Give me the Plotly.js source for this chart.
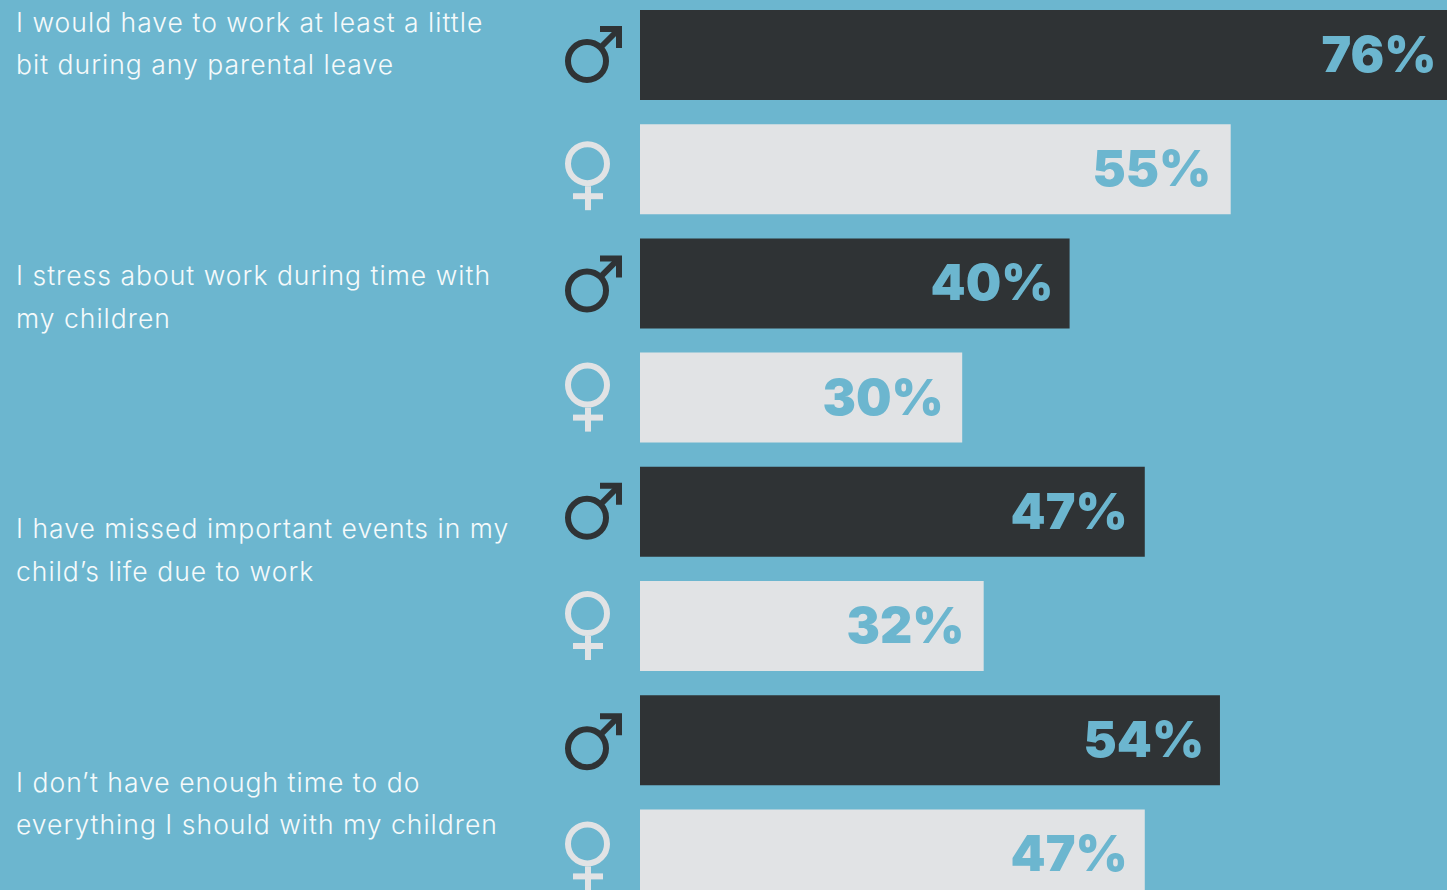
<!DOCTYPE html>
<html><head><meta charset="utf-8">
<script src="https://cdn.plot.ly/plotly-3.0.1.min.js"></script>
<style>html,body{margin:0;padding:0;overflow:hidden;background:#6cb6cf}#c{width:1447px;height:890px}
.annotation-text{letter-spacing:1.02px}
.annotation[data-index="0"] .annotation-text,.annotation[data-index="1"] .annotation-text,.annotation[data-index="2"] .annotation-text,.annotation[data-index="3"] .annotation-text,.annotation[data-index="4"] .annotation-text,.annotation[data-index="5"] .annotation-text,.annotation[data-index="6"] .annotation-text,.annotation[data-index="7"] .annotation-text{letter-spacing:0}</style>
</head><body><div id="c"></div>
<script>
const statements = [
  ["I would have to work at least a little", "bit during any parental leave"],
  ["I stress about work during time with", "my children"],
  ["I have missed important events in my", "child\u2019s life due to work"],
  ["I don\u2019t have enough time to do", "everything I should with my children"]
];
const men = [76, 40, 47, 54];
const women = [55, 30, 32, 47];

const W = 1447, H = 890, BG = "#6cb6cf", DARK = "#2f3335", LIGHT = "#e1e3e5";
const pxPerPct = 10.74, barLeft = 640, pitch = 114.2, barPx = 90, firstCenter = 55;
const labelOffsets = [[-33, 9], [-8, 35], [16, 59], [42, 84]];
const femaleNudge = [0, 7, 7, 5];
const maleNudge = [0, -1, 0, -2];
const menInset = [16, 13, 14, 12];
const womenInset = [16, 15, 16, 14];
const textFont = {family: "Inter, sans-serif", size: 26.5, color: "#f5fafb", weight: 300};
const valueFont = {family: "Inter, sans-serif", size: 50, color: BG, weight: 900};

const menY = men.map((_, i) => i * 2), womenY = women.map((_, i) => i * 2 + 1);
const barTrace = (name, x, y, color) => ({
  type: "bar", orientation: "h", name, x, y, width: barPx / pitch,
  marker: {color, line: {width: 0}}, hoverinfo: "x+name"
});

const annotations = [];
const valueAnn = (v, y, inset) => annotations.push({
  xref: "paper", yref: "y", x: (barLeft + v * pxPerPct) / W, y, xshift: -inset, yshift: 1, xanchor: "right", yanchor: "middle",
  text: v + "%", showarrow: false, font: valueFont
});
men.forEach((v, i) => valueAnn(v, menY[i], menInset[i]));
women.forEach((v, i) => valueAnn(v, womenY[i], womenInset[i]));
statements.forEach((lines, i) => lines.forEach((t, j) => annotations.push({
  xref: "paper", yref: "y", x: 14 / W, y: menY[i], yshift: -labelOffsets[i][j],
  xanchor: "left", yanchor: "middle", text: t, showarrow: false, font: textFont
})));

const anchorX = 587 / W, SW = 6;
const sh = (y, o) => Object.assign({xref: "paper", yref: "y", xsizemode: "pixel", ysizemode: "pixel",
  xanchor: anchorX, yanchor: y, layer: "above"}, o);
const shapes = [];
menY.forEach((y, i) => {
  const line = {color: DARK, width: SW}, n = maleNudge[i];
  shapes.push(sh(y, {type: "circle", x0: -19, x1: 19, y0: -25 + n, y1: 13 + n, line}));
  shapes.push(sh(y, {type: "line", x0: 15, y0: 9 + n, x1: 31, y1: 25 + n, line}));
  shapes.push(sh(y, {type: "path", path: `M 13 ${26 + n} L 32 ${26 + n} L 32 ${7 + n}`, line}));
});
womenY.forEach((y, i) => {
  const line = {color: LIGHT, width: SW}, n = femaleNudge[i];
  shapes.push(sh(y, {type: "circle", x0: -19, x1: 20, y0: -14 + n, y1: 25 + n, line}));
  shapes.push(sh(y, {type: "line", x0: 1, y0: -17 + n, x1: 1, y1: -41 + n, line}));
  shapes.push(sh(y, {type: "line", x0: -14, y0: -27 + n, x1: 16, y1: -27 + n, line}));
});

const xMin = -barLeft / pxPerPct, xMax = (W - barLeft) / pxPerPct;
const layout = {
  width: W, height: H, margin: {l: 0, r: 0, t: 0, b: 0, pad: 0},
  paper_bgcolor: BG, plot_bgcolor: BG, showlegend: false, barmode: "overlay",
  xaxis: {range: [xMin, xMax], visible: false, fixedrange: true},
  yaxis: {range: [(H - firstCenter) / pitch, -firstCenter / pitch], visible: false, fixedrange: true},
  annotations, shapes
};
Plotly.newPlot("c", [barTrace("Men", men, menY, DARK), barTrace("Women", women, womenY, LIGHT)], layout, {displayModeBar: false, staticPlot: true});
</script></body></html>
